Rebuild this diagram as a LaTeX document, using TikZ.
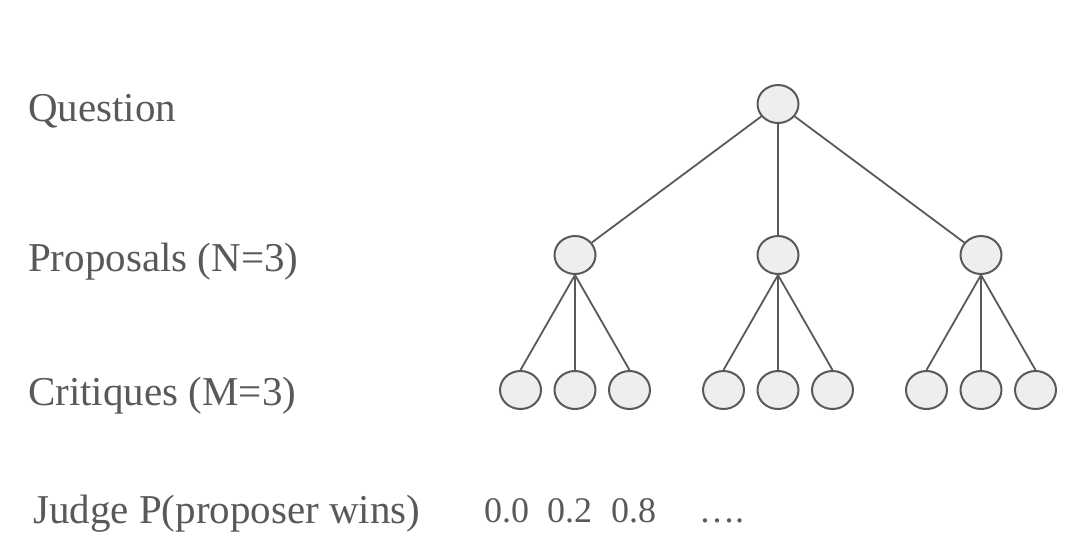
\documentclass[tikz,border=0pt]{standalone}
\usepackage{fontspec}
\setmainfont{Liberation Serif}
\usetikzlibrary{shapes.geometric}
\definecolor{inkgray}{HTML}{595959}
\definecolor{nodefill}{HTML}{EEEEEE}
\begin{document}
\begin{tikzpicture}[x=1pt,y=-1pt,
        vertex/.style={ellipse,draw=inkgray,fill=nodefill,line width=2pt,
            minimum width=41pt,minimum height=38pt,inner sep=0pt},
        edge/.style={draw=inkgray,line width=1.8pt},
        rowlabel/.style={anchor=base west,inner sep=0pt,text=inkgray,
            font=\fontsize{41}{49}\selectfont},
        score/.style={anchor=base west,inner sep=0pt,text=inkgray,
            font=\fontsize{36}{42}\selectfont}]
    \useasboundingbox (0,0) rectangle (1090,558);
    % row labels
    \node[rowlabel] (lquestion) at (28,121) {Question};
    \node[rowlabel] (lproposal) at (28,271) {Proposals (N=3)};
    \node[rowlabel] (lcritique) at (28,405) {Critiques (M=3)};
    \node[rowlabel] (ljudge) at (33,523) {Judge P(proposer wins)};
    % judge scores
    \node[score] (s1) at (484,522) {0.0};
    \node[score] (s2) at (547,522) {0.2};
    \node[score] (s3) at (611,522) {0.8};
    \node[score] (sdots) at (699,522) {….};
    % tree
    \node[vertex] (q) at (778,104) {};
    \foreach \i/\x in {1/575,2/778,3/981}
    {
        \node[vertex] (p\i) at (\x,255) {};
        \draw[edge] (q) -- (p\i);
        \foreach \j/\dx in {1/-54.5,2/0,3/54.5}
        {
            \node[vertex] (c\i\j) at (\x+\dx,390) {};
            \draw[edge] (p\i.south) -- (c\i\j.north);
        }
    }
\end{tikzpicture}
\end{document}
